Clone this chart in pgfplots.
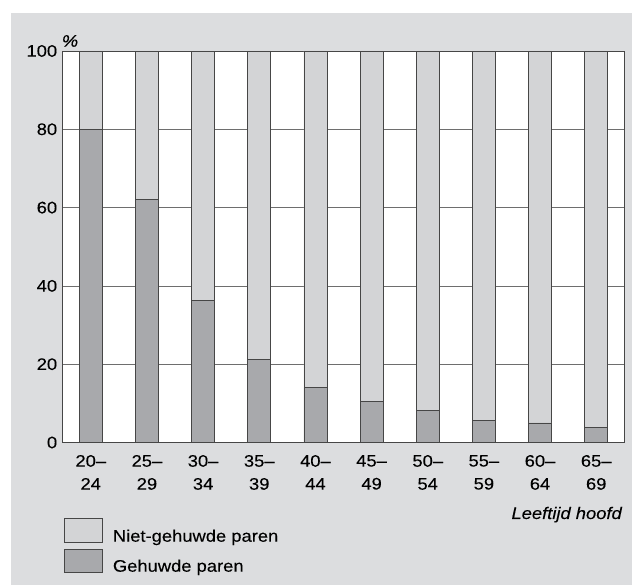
\documentclass[border=0pt]{standalone}
\usepackage{fontspec}
\setmainfont{Liberation Sans}[FakeStretch=1.1, FakeBold=0.12]
\usepackage{pgfplots}
\pgfplotsset{compat=1.18}

\definecolor{panelgray}{RGB}{220,221,223}
\definecolor{lightbar}{RGB}{211,212,214}
\definecolor{darkbar}{RGB}{168,169,172}
\definecolor{edgegray}{RGB}{70,70,70}
\definecolor{gridgray}{RGB}{110,110,110}

\newcommand{\lblfont}{\fontsize{16.7}{23}\selectfont}

\begin{document}
\begin{tikzpicture}
\fill[white] (0pt,0pt) rectangle (632pt,585pt);
\fill[panelgray] (11pt,0pt) rectangle (632pt,572pt);
\begin{axis}[
	at={(62.7pt,142.5pt)}, anchor=south west,
	width=561.6pt, height=391.5pt, scale only axis,
	ybar stacked, bar width=0.41,
	xmin=-0.5, xmax=9.5, ymin=0, ymax=100,
	axis background/.style={fill=white},
	axis line style={draw=edgegray, line width=0.8pt},
	ytick={0,20,40,60,80,100},
	yticklabels={0,20,40,60,80,100},
	xtick={0,...,9},
	xticklabels={20--\\24,25--\\29,30--\\34,35--\\39,40--\\44,45--\\49,50--\\54,55--\\59,60--\\64,65--\\69},
	xticklabel style={align=center, font=\lblfont, yshift=-9pt,
		execute at begin node={\setlength{\baselineskip}{23pt}}},
	yticklabel style={font=\lblfont, xshift=-2pt},
	major tick length=0pt,
	ymajorgrids,
	major grid style={draw=gridgray, line width=0.6pt},
]
\addplot[fill=darkbar, draw=edgegray, line width=0.8pt] coordinates {
	(0,80) (1,62) (2,36.2) (3,21.3) (4,14.1)
	(5,10.5) (6,8.1) (7,5.6) (8,5.0) (9,3.9)
};
\addplot[fill=lightbar, draw=edgegray, line width=0.8pt] coordinates {
	(0,20) (1,38) (2,63.8) (3,78.7) (4,85.9)
	(5,89.5) (6,91.9) (7,94.4) (8,95.0) (9,96.1)
};
\end{axis}
\node[font=\lblfont\itshape] at (70pt,544pt) {\%};
\node[anchor=base east, inner sep=0pt, font=\lblfont\itshape] at (622pt,66pt) {Leeftijd hoofd};
% legend
\draw[fill=lightbar, draw=edgegray, line width=0.8pt] (64pt,43pt) rectangle (102.5pt,67pt);
\draw[fill=darkbar, draw=edgegray, line width=0.8pt] (64pt,13pt) rectangle (102.5pt,36pt);
\node[anchor=base west, inner sep=0pt, font=\lblfont] at (112.7pt,43.3pt) {Niet-gehuwde paren};
\node[anchor=base west, inner sep=0pt, font=\lblfont] at (112.7pt,13.3pt) {Gehuwde paren};
\end{tikzpicture}
\end{document}
